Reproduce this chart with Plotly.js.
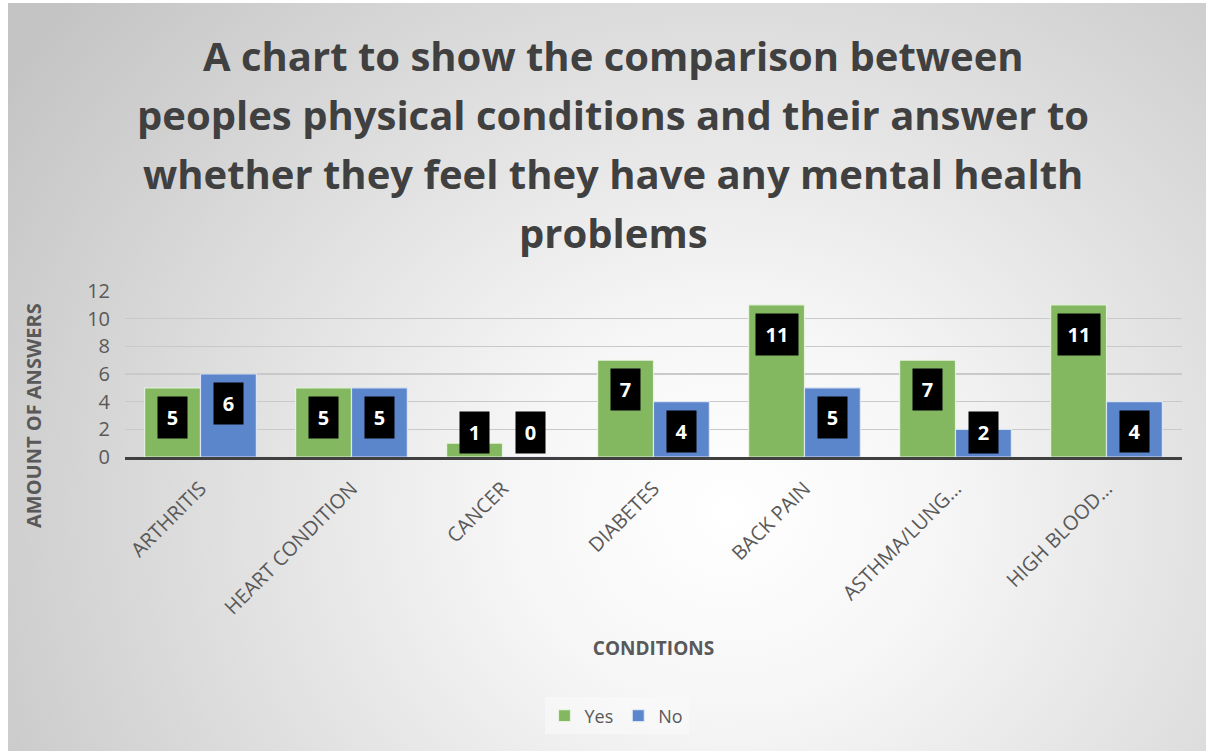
<!DOCTYPE html>
<html>
<head>
<meta charset="utf-8">
<script src="https://cdn.plot.ly/plotly-3.0.1.min.js"></script>
<style>
  html, body { margin: 0; padding: 0; background: #ffffff; }
  #wrap {
    position: absolute; left: 8px; top: 3px; width: 1198px; height: 748px;
    background: radial-gradient(ellipse 72% 105% at 60% 68%, #ffffff 0%, #f6f6f6 25%, #c4c4c4 100%);
  }
  #chart { width: 1198px; height: 748px; }
</style>
</head>
<body>
<div id="wrap"><div id="chart"></div></div>
<script>
const categories = ["ARTHRITIS", "HEART CONDITION", "CANCER", "DIABETES", "BACK PAIN", "ASTHMA/LUNG…", "HIGH BLOOD…"];
const yesValues = [5, 5, 1, 7, 11, 7, 11];
const noValues = [6, 5, 0, 4, 5, 2, 4];
const seriesNames = ["Yes", "No"];
const titleLines = [
  "A chart to show the comparison between",
  "peoples physical conditions and their answer to",
  "whether they feel they have any mental health",
  "problems"
];
const yTickValues = [0, 2, 4, 6, 8, 10, 12];
const xTitle = "CONDITIONS";
const yTitle = "AMOUNT OF ANSWERS";

const green = "rgb(131,184,97)";
const blue = "rgb(91,134,203)";
const gray = "#595959";
const fontFam = "'Open Sans', 'DejaVu Sans', sans-serif";

const traces = [
  { type: "bar", name: seriesNames[0], x: categories, y: yesValues,
    marker: { color: green, line: { color: "rgba(235,245,228,0.9)", width: 1.2 } }, hoverinfo: "x+y" },
  { type: "bar", name: seriesNames[1], x: categories, y: noValues,
    marker: { color: blue, line: { color: "rgba(225,233,248,0.9)", width: 1.2 } }, hoverinfo: "x+y" }
];

const annotations = [];
// title lines
titleLines.forEach((t, i) => {
  annotations.push({
    text: "<b>" + t + "</b>", xref: "paper", yref: "paper", x: 0.462, y: 1,
    xanchor: "center", yanchor: "middle", showarrow: false,
    yshift: 236 - i * 59,
    font: { family: fontFam, size: 40, color: "#404040" }
  });
});
// y axis title (placed as in the reference, below plot centre)
annotations.push({
  text: "<b>" + yTitle + "</b>", xref: "paper", yref: "paper", x: 0, y: 0.5,
  xanchor: "center", yanchor: "middle", textangle: -90, showarrow: false,
  xshift: -92, yshift: -42,
  font: { family: fontFam, size: 20, color: gray }
});
// data labels (black boxes)
const labelMin = 3.9;
[yesValues, noValues].forEach((vals, s) => {
  vals.forEach((v, i) => {
    annotations.push({
      text: "<b>" + v + "</b>", x: categories[i], y: Math.max(v, labelMin),
      xref: "x", yref: "y", xanchor: "center", yanchor: "top",
      xshift: s === 0 ? -28 : 28, yshift: -8, showarrow: false,
      bgcolor: "#000000", borderpad: 7,
      width: String(v).length > 1 ? 28 : 15,
      font: { family: fontFam, size: 20, color: "#ffffff" }
    });
  });
});

const layout = {
  width: 1198, height: 748,
  paper_bgcolor: "rgba(0,0,0,0)", plot_bgcolor: "rgba(0,0,0,0)",
  margin: { l: 117, r: 24, t: 288, b: 294 },
  barmode: "group", bargap: 0.26, bargroupgap: 0,
  font: { family: fontFam, color: gray },
  showlegend: true,
  legend: {
    orientation: "h", x: 0.465, xanchor: "center", y: -1.56, yanchor: "middle",
    bgcolor: "rgba(250,250,250,0.6)", borderwidth: 0,
    font: { family: fontFam, size: 18, color: gray },
    itemwidth: 30, tracegroupgap: 0
  },
  xaxis: {
    type: "category", tickangle: -45, showgrid: false,
    showline: true, linecolor: "#404040", linewidth: 3, ticks: "",
    ticklabelstandoff: 9,
    tickfont: { family: fontFam, size: 20, color: gray },
    title: { text: "<b>" + xTitle + "</b>", font: { family: fontFam, size: 19, color: gray }, standoff: 23 }
  },
  yaxis: {
    range: [0, 12], tickvals: yTickValues, showgrid: true, gridcolor: "#c9c9c9", gridwidth: 1.5,
    zeroline: false, showline: false, ticks: "",
    ticklabelstandoff: 14,
    tickfont: { family: fontFam, size: 20, color: gray }
  },
  annotations: annotations
};

Plotly.newPlot("chart", traces, layout, { displayModeBar: false, staticPlot: true });
</script>
</body>
</html>
